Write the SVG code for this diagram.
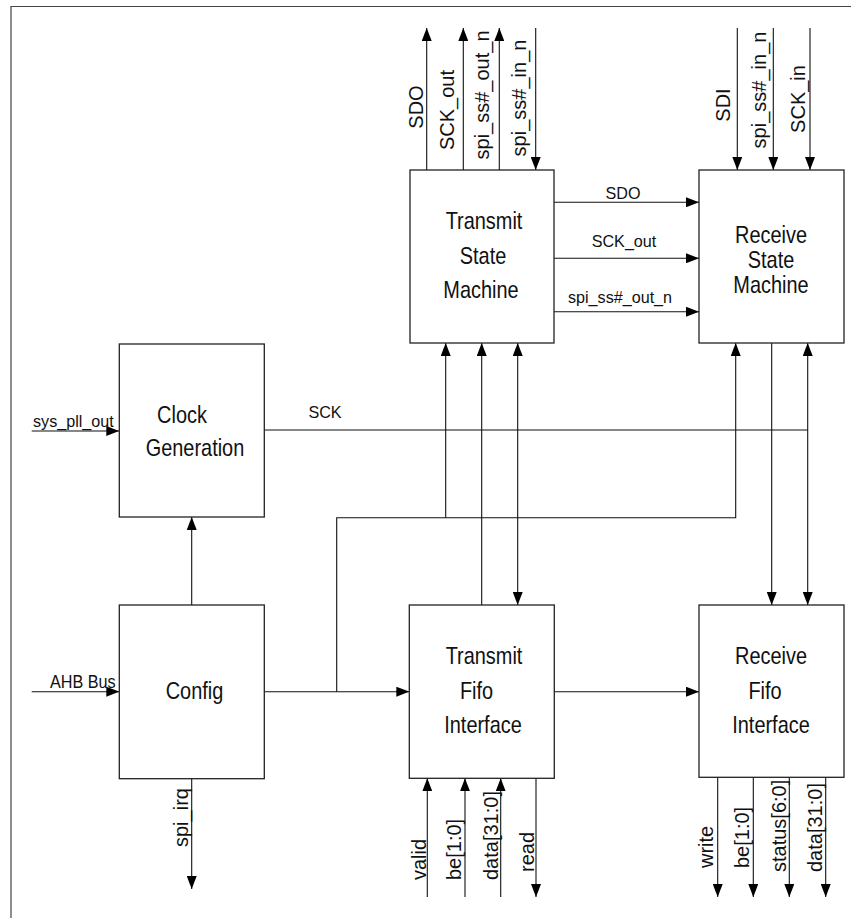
<svg xmlns="http://www.w3.org/2000/svg" width="851" height="918" viewBox="0 0 851 918">
<style>
.frame{fill:none;stroke:#444;stroke-width:1.2}
.box{fill:#fff;stroke:#222;stroke-width:1.3}
.ln{fill:none;stroke:#111;stroke-width:1.1}
.blk{font-family:"Liberation Sans",Arial,sans-serif;font-size:24px;fill:#111;text-anchor:middle}
.lbl{font-family:"Liberation Sans",Arial,sans-serif;font-size:17px;fill:#111}
.rot{font-family:"Liberation Sans",Arial,sans-serif;font-size:20px;fill:#111}
</style>
<defs>
<marker id="ah" markerUnits="userSpaceOnUse" markerWidth="13" markerHeight="10" refX="13" refY="5" orient="auto-start-reverse" viewBox="0 0 13 10">
<path d="M0,0 L13,5 L0,10 z" fill="#000"/>
</marker>
</defs>
<rect width="851" height="918" fill="#fff"/>
<path class="frame" d="M11,918 V6.5 H851"/>

<g id="connectors">
<path class="ln" d="M31.7,431 H119.3" marker-end="url(#ah)"/>
<path class="ln" d="M31.7,691.7 H119.3" marker-end="url(#ah)"/>
<path class="ln" d="M191.7,605 V517" marker-end="url(#ah)"/>
<path class="ln" d="M191.7,778.7 V889" marker-end="url(#ah)"/>
<path class="ln" d="M264.3,430 H807.7"/>
<path class="ln" d="M264.3,691.7 H409.3" marker-end="url(#ah)"/>
<path class="ln" d="M336.7,691.7 V517.7 H735.7 V343" marker-end="url(#ah)"/>
<path class="ln" d="M445.7,517.7 V343" marker-end="url(#ah)"/>
<path class="ln" d="M481.7,605 V343" marker-end="url(#ah)"/>
<path class="ln" d="M517.7,343 V605" marker-start="url(#ah)" marker-end="url(#ah)"/>
<path class="ln" d="M554.3,691.7 H699" marker-end="url(#ah)"/>
<path class="ln" d="M771.7,343 V605" marker-end="url(#ah)"/>
<path class="ln" d="M807.7,343 V605" marker-start="url(#ah)" marker-end="url(#ah)"/>
<path class="ln" d="M554,202.3 H699" marker-end="url(#ah)"/>
<path class="ln" d="M554,258.3 H699" marker-end="url(#ah)"/>
<path class="ln" d="M554,311.7 H699" marker-end="url(#ah)"/>
<path class="ln" d="M426.7,170 V28" marker-end="url(#ah)"/>
<path class="ln" d="M463.3,170 V28" marker-end="url(#ah)"/>
<path class="ln" d="M499.3,170 V28" marker-end="url(#ah)"/>
<path class="ln" d="M535.7,28 V170" marker-end="url(#ah)"/>
<path class="ln" d="M737.3,28 V170" marker-end="url(#ah)"/>
<path class="ln" d="M773.3,28 V170" marker-end="url(#ah)"/>
<path class="ln" d="M810,28 V170" marker-end="url(#ah)"/>
<path class="ln" d="M427.3,897 V778.3" marker-end="url(#ah)"/>
<path class="ln" d="M465,897 V778.3" marker-end="url(#ah)"/>
<path class="ln" d="M500.7,897 V778.3" marker-end="url(#ah)"/>
<path class="ln" d="M536,778.3 V897" marker-end="url(#ah)"/>
<path class="ln" d="M717.7,777.3 V897" marker-end="url(#ah)"/>
<path class="ln" d="M753.3,777.3 V897" marker-end="url(#ah)"/>
<path class="ln" d="M789.3,777.3 V897" marker-end="url(#ah)"/>
<path class="ln" d="M825.7,777.3 V897" marker-end="url(#ah)"/>

<text class="lbl" transform="translate(33,427) scale(0.95,1)">sys_pll_out</text>
<text class="lbl" transform="translate(50,688) scale(0.9,1)" style="font-size:18px">AHB Bus</text>
<text class="lbl" text-anchor="middle" transform="translate(325,418) scale(0.95,1)">SCK</text>
<text class="lbl" text-anchor="middle" transform="translate(623,199) scale(0.95,1)">SDO</text>
<text class="lbl" text-anchor="middle" transform="translate(624,247) scale(0.95,1)">SCK_out</text>
<text class="lbl" text-anchor="middle" transform="translate(620,303) scale(0.95,1)">spi_ss#_out_n</text>

<text class="rot" text-anchor="middle" transform="translate(423,107) rotate(-90)">SDO</text>
<text class="rot" text-anchor="middle" transform="translate(454,110) rotate(-90)">SCK_out</text>
<text class="rot" text-anchor="middle" transform="translate(489,95) rotate(-90)">spi_ss#_out_n</text>
<text class="rot" text-anchor="middle" transform="translate(526,98) rotate(-90)">spi_ss#_in_n</text>
<text class="rot" text-anchor="middle" transform="translate(730,105) rotate(-90)">SDI</text>
<text class="rot" text-anchor="middle" transform="translate(766,90) rotate(-90)">spi_ss#_in_n</text>
<text class="rot" text-anchor="middle" transform="translate(805,99) rotate(-90)">SCK_in</text>

<text class="rot" transform="translate(188,847) rotate(-90)">spi_irq</text>
<text class="rot" transform="translate(425.5,880) rotate(-90)">valid</text>
<text class="rot" transform="translate(461,880) rotate(-90)">be[1:0]</text>
<text class="rot" transform="translate(498,880) rotate(-90)">data[31:0]</text>
<text class="rot" transform="translate(534,872) rotate(-90)">read</text>
<text class="rot" transform="translate(713,868) rotate(-90)">write</text>
<text class="rot" transform="translate(749,868) rotate(-90)">be[1:0]</text>
<text class="rot" transform="translate(786,872) rotate(-90)">status[6:0]</text>
<text class="rot" transform="translate(822,872) rotate(-90)">data[31:0]</text>
</g>

<g id="clock">
<rect class="box" x="119.3" y="344" width="145" height="173"/>
<text class="blk" transform="translate(182,423) scale(0.83,1)">Clock</text>
<text class="blk" transform="translate(195,456) scale(0.83,1)">Generation</text>
</g>
<g id="config">
<rect class="box" x="119.3" y="605" width="145" height="173.7"/>
<text class="blk" transform="translate(194.5,699) scale(0.83,1)">Config</text>
</g>
<g id="tsm">
<rect class="box" x="410" y="170" width="144" height="173"/>
<text class="blk" transform="translate(484,229) scale(0.83,1)">Transmit</text>
<text class="blk" transform="translate(483,264) scale(0.83,1)">State</text>
<text class="blk" transform="translate(481,298) scale(0.83,1)">Machine</text>
</g>
<g id="rsm">
<rect class="box" x="699" y="170" width="145" height="173"/>
<text class="blk" transform="translate(771,243) scale(0.83,1)">Receive</text>
<text class="blk" transform="translate(771,268) scale(0.83,1)">State</text>
<text class="blk" transform="translate(771,293) scale(0.83,1)">Machine</text>
</g>
<g id="tfi">
<rect class="box" x="409.3" y="605" width="145" height="173.3"/>
<text class="blk" transform="translate(484,664) scale(0.83,1)">Transmit</text>
<text class="blk" transform="translate(476.5,699) scale(0.83,1)">Fifo</text>
<text class="blk" transform="translate(483,733) scale(0.83,1)">Interface</text>
</g>
<g id="rfi">
<rect class="box" x="699" y="605" width="145" height="172.3"/>
<text class="blk" transform="translate(771,664) scale(0.83,1)">Receive</text>
<text class="blk" transform="translate(765,699) scale(0.83,1)">Fifo</text>
<text class="blk" transform="translate(771,733) scale(0.83,1)">Interface</text>
</g>
</svg>
